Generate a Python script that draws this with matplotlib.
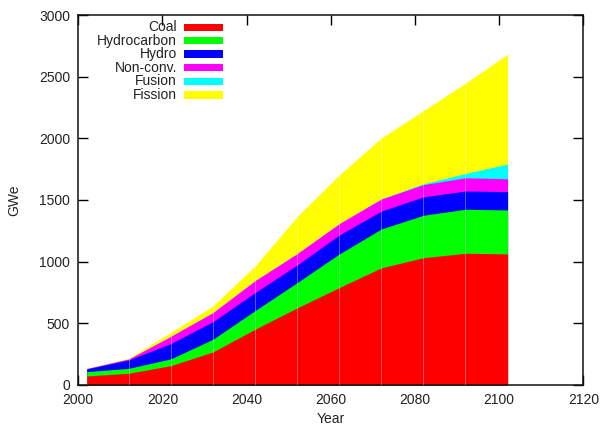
import matplotlib
matplotlib.use("Agg")
import matplotlib.pyplot as plt
from matplotlib.patches import Rectangle
import numpy as np

plt.rcParams['font.family'] = ['Liberation Sans', 'DejaVu Sans']

# Installed capacity by source, GWe
years = [2002, 2012, 2022, 2032, 2042, 2052, 2062, 2072, 2082, 2092, 2102]
coal = [73, 95, 157, 268, 452, 625, 790, 950, 1032, 1068, 1063]
hydrocarbon = [35, 40, 55, 103, 151, 205, 272, 315, 344, 357, 356]
hydro = [22, 68, 124, 143, 146, 143, 154, 145, 149, 148, 149]
nonconv = [3, 8, 59, 73, 97, 92, 92, 98, 100, 107, 104]
fusion = [0, 0, 0, 0, 0, 0, 0, 0, 7, 35, 120]
fission = [2, 7, 33, 54, 119, 301, 395, 495, 593, 732, 891]

labels = ["Coal", "Hydrocarbon", "Hydro", "Non-conv.", "Fusion", "Fission"]
colors = ["#ff0000", "#00ff00", "#0000ff", "#ff00ff", "#00ffff", "#ffff00"]

fig = plt.figure(figsize=(6.01, 4.29), dpi=100)
ax = fig.add_axes([0.1303, 0.1026, 0.8403, 0.8624])

series = [coal, hydrocarbon, hydro, nonconv, fusion, fission]
cum = np.cumsum(np.array(series, dtype=float), axis=0)
x = np.array(years, dtype=float)

# draw cumulative curves from the top down, each filled to zero
for i in range(len(series) - 1, -1, -1):
    ax.fill_between(x, 0, cum[i], color=colors[i], linewidth=0, zorder=2 + (len(series) - i) * 0.01)

# faint seams at each sample year
for xi, top in zip(x[1:-1], cum[-1][1:-1]):
    ax.plot([xi, xi], [0, top], color="white", alpha=0.35, lw=0.7, zorder=3)

ax.set_xlim(2000, 2120)
ax.set_ylim(0, 3000)
ax.set_xticks(np.arange(2000, 2121, 20))
ax.set_yticks(np.arange(0, 3001, 500))
ax.tick_params(direction="in", length=7, width=1, top=True, right=True,
               labelsize=10, labelcolor="#222222")
ax.tick_params(axis="x", pad=5.5)
ax.tick_params(axis="y", pad=6)
for s in ax.spines.values():
    s.set_linewidth(1.1)
    s.set_color("#111111")

ax.set_xlabel("Year", fontsize=10, color="#222222")
ax.set_ylabel("GWe", fontsize=10, color="#222222")
ax.xaxis.set_label_coords(0.5, -0.074)
ax.yaxis.set_label_coords(-0.112, 0.5)

# key: right-aligned labels followed by colour swatches
row_y = [0.9667, 0.9305, 0.8946, 0.8576, 0.8216, 0.7838]
for lab, col, yy in zip(labels, colors, row_y):
    ax.text(0.1954, yy, lab, transform=ax.transAxes, ha="right", va="center",
            fontsize=10, color="#222222", zorder=5)
    ax.add_patch(Rectangle((0.2093, yy - 0.0095), 0.0778, 0.019,
                           transform=ax.transAxes, facecolor=col,
                           edgecolor="none", zorder=5))

fig.savefig("out.png", dpi=100)
